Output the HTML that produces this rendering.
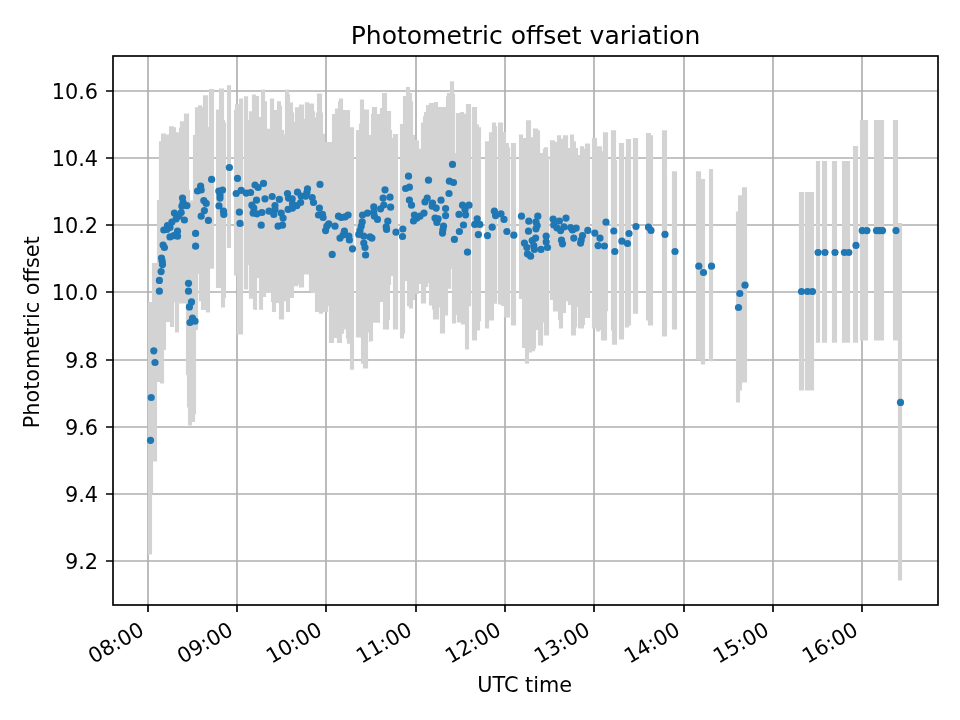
<!DOCTYPE html>
<html lang="en"><head><meta charset="utf-8"><title>Photometric offset variation</title>
<style>html,body{margin:0;padding:0;background:#fff}body{width:960px;height:720px;overflow:hidden}</style></head>
<body>
<svg width="960" height="720" viewBox="0 0 960 720" style="display:block">
<rect width="960" height="720" fill="#fff"/>
<path d="M148.00 56V605M237.00 56V605M326.00 56V605M416.00 56V605M505.00 56V605M594.00 56V605M684.00 56V605M773.00 56V605M862.00 56V605M113 91.00H938M113 158.00H938M113 225.00H938M113 292.00H938M113 360.00H938M113 427.00H938M113 494.00H938M113 561.00H938" stroke="#b0b0b0" stroke-width="1.667" fill="none"/>
<path fill="#d3d3d3" d="M147.92 301.90H152.08V554.60H147.92ZM151.92 263.10H153.08V493.00H151.92ZM152.92 263.10H157.08V461.60H152.92ZM156.92 200.00H159.08V381.90H156.92ZM158.92 141.25H160.08V381.90H158.92ZM159.92 141.25H161.08V383.50H159.92ZM160.92 133.50H164.08V383.50H160.92ZM163.92 133.50H166.08V350.00H163.92ZM165.92 134.38H169.08V321.88H165.92ZM168.92 126.25H170.08V321.88H168.92ZM169.92 126.25H174.08V326.88H169.92ZM173.92 127.25H175.08V302.50H173.92ZM174.92 127.25H176.08V332.50H174.92ZM175.92 132.25H179.08V332.50H175.92ZM178.92 127.50H180.08V303.50H178.92ZM179.92 121.25H184.08V303.50H179.92ZM183.92 113.38H186.08V303.50H183.92ZM185.92 113.38H187.08V375.00H185.92ZM186.92 113.38H188.08V407.50H186.92ZM187.92 113.38H189.08V425.60H187.92ZM188.92 190.00H190.08V425.60H188.92ZM189.92 200.62H192.08V425.60H189.92ZM191.92 200.62H193.08V421.90H191.92ZM192.92 135.00H195.08V421.90H192.92ZM194.92 107.25H196.08V414.40H194.92ZM195.92 107.25H198.08V330.00H195.92ZM197.92 105.25H199.08V273.75H197.92ZM198.92 105.25H201.08V301.25H198.92ZM200.92 105.25H202.08V310.00H200.92ZM201.92 106.88H203.08V310.00H201.92ZM202.92 95.25H206.08V310.00H202.92ZM205.92 95.25H208.08V312.50H205.92ZM207.92 126.88H209.08V312.50H207.92ZM208.92 89.12H210.08V312.50H208.92ZM209.92 89.12H214.08V268.75H209.92ZM215.92 109.38H219.08V288.12H215.92ZM218.92 88.38H221.08V288.12H218.92ZM220.92 88.38H224.08V307.50H220.92ZM223.92 120.00H225.08V307.50H223.92ZM224.92 122.50H226.08V298.12H224.92ZM226.92 85.25H231.08V248.12H226.92ZM233.92 110.00H235.08V275.62H233.92ZM234.92 104.00H237.08V275.62H234.92ZM236.92 104.00H239.08V334.38H236.92ZM238.92 98.38H243.08V334.38H238.92ZM243.92 96.25H248.08V289.38H243.92ZM247.92 120.00H249.08V265.00H247.92ZM248.92 111.25H252.08V298.75H248.92ZM251.92 94.38H253.08V298.75H251.92ZM252.92 94.38H255.08V309.38H252.92ZM254.92 94.38H256.08V310.00H254.92ZM255.92 96.00H257.08V310.00H255.92ZM256.92 96.00H259.08V278.12H256.92ZM258.92 116.88H261.08V309.75H258.92ZM260.92 89.38H263.08V309.75H260.92ZM262.92 89.38H265.08V296.88H262.92ZM264.92 101.25H266.08V296.88H264.92ZM265.92 101.25H267.08V293.12H265.92ZM266.92 128.75H270.08V293.12H266.92ZM269.92 98.38H271.08V293.12H269.92ZM270.92 98.38H272.08V301.88H270.92ZM271.92 98.38H274.08V311.88H271.92ZM273.92 110.00H276.08V311.88H273.92ZM275.92 110.00H277.08V303.12H275.92ZM276.92 101.25H279.08V303.12H276.92ZM278.92 101.25H281.08V319.38H278.92ZM280.92 105.62H282.08V319.38H280.92ZM281.92 130.00H284.08V319.38H281.92ZM283.92 134.38H285.08V301.25H283.92ZM284.92 89.38H286.08V301.25H284.92ZM285.92 89.38H289.08V311.88H285.92ZM288.92 94.38H290.08V311.88H288.92ZM289.92 102.50H293.08V298.12H289.92ZM292.92 112.50H294.08V298.12H292.92ZM293.92 121.88H295.08V286.25H293.92ZM294.92 107.25H298.08V286.25H294.92ZM297.92 107.25H299.08V284.38H297.92ZM298.92 104.38H304.08V287.50H298.92ZM303.92 118.75H305.08V274.38H303.92ZM304.92 102.25H309.08V274.38H304.92ZM308.92 103.38H311.08V291.25H308.92ZM310.92 103.38H314.08V293.12H310.92ZM313.92 111.25H315.08V293.12H313.92ZM314.92 117.50H316.08V311.88H314.92ZM315.92 112.50H317.08V311.88H315.92ZM316.92 93.38H319.08V311.88H316.92ZM318.92 93.38H322.08V313.75H318.92ZM321.92 112.50H323.08V313.75H321.92ZM322.92 133.75H325.08V311.88H322.92ZM324.92 141.88H328.08V311.88H324.92ZM327.92 141.88H329.08V306.25H327.92ZM328.92 141.88H332.08V342.88H328.92ZM331.92 114.00H334.08V342.88H331.92ZM333.92 114.00H335.08V338.12H333.92ZM334.92 108.50H337.08V338.12H334.92ZM336.92 108.50H338.08V342.88H336.92ZM337.92 101.25H339.08V342.88H337.92ZM338.92 98.38H342.08V342.88H338.92ZM341.92 98.38H343.08V333.75H341.92ZM342.92 110.00H344.08V333.75H342.92ZM343.92 110.00H346.08V329.38H343.92ZM345.92 110.00H347.08V338.75H345.92ZM346.92 110.00H350.08V343.75H346.92ZM349.92 127.25H354.08V369.75H349.92ZM355.92 130.00H359.08V337.50H355.92ZM358.92 123.75H360.08V337.50H358.92ZM359.92 99.38H361.08V337.50H359.92ZM360.92 99.38H363.08V363.75H360.92ZM362.92 99.38H364.08V368.50H362.92ZM363.92 109.38H368.08V368.50H363.92ZM367.92 109.38H369.08V332.50H367.92ZM368.92 135.00H370.08V341.88H368.92ZM369.92 135.00H371.08V341.25H369.92ZM370.92 113.75H372.08V341.25H370.92ZM371.92 106.88H373.08V341.25H371.92ZM372.92 106.88H377.08V322.75H372.92ZM376.92 114.00H380.08V322.75H376.92ZM379.92 108.12H382.08V301.88H379.92ZM381.92 93.12H383.08V301.88H381.92ZM382.92 93.12H387.08V329.38H382.92ZM386.92 111.00H389.08V329.38H386.92ZM388.92 111.00H390.08V320.00H388.92ZM389.92 111.00H391.08V285.00H389.92ZM390.92 130.00H392.08V276.00H390.92ZM391.92 138.12H393.08V276.00H391.92ZM392.92 134.00H398.08V329.38H392.92ZM399.92 124.00H403.08V338.50H399.92ZM402.92 95.88H404.08V338.50H402.92ZM403.92 95.88H405.08V333.75H403.92ZM404.92 95.88H406.08V281.00H404.92ZM405.92 87.12H407.08V281.00H405.92ZM406.92 87.12H409.08V306.25H406.92ZM408.92 87.12H410.08V308.50H408.92ZM409.92 93.12H412.08V308.50H409.92ZM411.92 101.25H413.08V308.50H411.92ZM412.92 135.00H415.08V300.00H412.92ZM414.92 140.00H417.08V294.00H414.92ZM416.92 140.62H419.08V294.00H416.92ZM418.92 148.75H421.08V284.00H418.92ZM420.92 122.50H423.08V303.50H420.92ZM422.92 116.25H424.08V303.50H422.92ZM423.92 111.88H426.08V303.50H423.92ZM425.92 105.00H428.08V287.00H425.92ZM427.92 105.00H429.08V283.00H427.92ZM428.92 103.12H432.08V305.62H428.92ZM431.92 103.12H433.08V309.38H431.92ZM432.92 103.12H434.08V319.38H432.92ZM433.92 102.12H438.08V319.38H433.92ZM437.92 106.88H439.08V319.38H437.92ZM438.92 106.88H440.08V307.50H438.92ZM439.92 106.88H445.08V333.50H439.92ZM444.92 106.88H446.08V315.62H444.92ZM445.92 96.25H447.08V315.62H445.92ZM446.92 93.12H448.08V315.62H446.92ZM447.92 93.12H450.08V288.75H447.92ZM449.92 81.25H451.08V288.75H449.92ZM450.92 81.25H452.08V269.00H450.92ZM451.92 81.25H454.08V323.50H451.92ZM453.92 93.75H455.08V323.50H453.92ZM454.92 153.12H456.08V323.50H454.92ZM455.92 113.12H457.08V315.00H455.92ZM456.92 113.12H460.08V322.50H456.92ZM459.92 112.12H461.08V322.50H459.92ZM460.92 112.12H464.08V324.38H460.92ZM463.92 113.75H465.08V324.38H463.92ZM464.92 113.75H466.08V349.62H464.92ZM465.92 104.12H469.08V349.62H465.92ZM468.92 104.12H471.08V306.25H468.92ZM471.92 107.12H477.08V340.62H471.92ZM476.92 124.38H479.08V330.62H476.92ZM478.92 127.25H480.08V330.62H478.92ZM479.92 127.25H481.08V321.25H479.92ZM484.92 141.25H489.08V328.50H484.92ZM488.92 132.25H492.08V320.62H488.92ZM491.92 122.50H494.08V320.62H491.92ZM493.92 122.50H496.08V303.75H493.92ZM495.92 126.25H497.08V303.75H495.92ZM497.92 122.50H501.08V304.38H497.92ZM500.92 122.50H503.08V306.00H500.92ZM502.92 131.88H504.08V306.00H502.92ZM503.92 131.88H506.08V317.50H503.92ZM505.92 143.12H509.08V317.50H505.92ZM508.92 147.50H510.08V317.50H508.92ZM510.92 143.12H516.08V325.62H510.92ZM518.92 134.38H522.08V299.00H518.92ZM521.92 134.38H523.08V348.12H521.92ZM522.92 138.12H525.08V348.12H522.92ZM524.92 138.12H526.08V363.75H524.92ZM525.92 120.25H529.08V363.75H525.92ZM528.92 120.25H531.08V352.50H528.92ZM530.92 137.25H532.08V352.50H530.92ZM531.92 137.25H533.08V351.25H531.92ZM532.92 128.38H535.08V351.25H532.92ZM534.92 128.38H536.08V348.75H534.92ZM535.92 128.38H538.08V330.00H535.92ZM537.92 130.25H540.08V345.62H537.92ZM539.92 153.12H543.08V345.62H539.92ZM542.92 148.75H544.08V322.50H542.92ZM543.92 147.25H548.08V335.38H543.92ZM547.92 156.25H549.08V335.38H547.92ZM549.92 140.25H553.08V300.00H549.92ZM552.92 140.25H555.08V311.62H552.92ZM554.92 141.88H557.08V311.62H554.92ZM556.92 135.25H558.08V311.62H556.92ZM557.92 135.25H559.08V320.00H557.92ZM558.92 135.25H561.08V328.50H558.92ZM560.92 138.75H563.08V328.50H560.92ZM562.92 135.25H566.08V313.12H562.92ZM565.92 135.25H568.08V301.25H565.92ZM567.92 148.12H570.08V305.00H567.92ZM569.92 134.38H571.08V305.00H569.92ZM570.92 134.38H574.08V335.38H570.92ZM573.92 141.25H576.08V335.38H573.92ZM575.92 148.12H577.08V327.50H575.92ZM576.92 148.12H578.08V306.88H576.92ZM577.92 155.00H580.08V328.50H577.92ZM579.92 146.25H584.08V328.50H579.92ZM583.92 148.75H585.08V325.00H583.92ZM584.92 143.38H590.08V317.88H584.92ZM591.92 138.12H596.08V328.50H591.92ZM595.92 138.12H597.08V331.50H595.92ZM596.92 146.25H600.08V331.50H596.92ZM599.92 146.25H601.08V330.00H599.92ZM600.92 146.25H602.08V340.62H600.92ZM601.92 151.25H603.08V340.62H601.92ZM602.92 132.25H607.08V340.62H602.92ZM606.92 132.25H608.08V311.25H606.92ZM610.92 130.25H612.08V330.62H610.92ZM611.92 130.25H616.08V344.75H611.92ZM615.92 160.00H617.08V344.75H615.92ZM618.92 143.12H624.08V339.38H618.92ZM624.92 158.75H626.08V327.50H624.92ZM625.92 139.12H629.08V327.50H625.92ZM628.92 139.12H631.08V325.62H628.92ZM632.92 138.12H638.08V313.75H632.92ZM645.92 133.12H648.08V320.62H645.92ZM647.92 133.12H651.08V325.62H647.92ZM650.92 135.25H653.08V325.62H650.92ZM661.92 130.25H667.08V336.50H661.92ZM671.92 171.25H677.08V329.62H671.92ZM695.92 171.25H701.08V359.75H695.92ZM700.92 179.12H705.08V364.60H700.92ZM708.92 169.12H713.08V361.25H708.92ZM735.92 211.50H740.08V402.50H735.92ZM737.92 195.25H742.08V390.60H737.92ZM741.92 187.25H747.08V382.50H741.92ZM798.92 192.10H804.08V390.60H798.92ZM804.92 192.10H814.08V390.60H804.92ZM815.92 161.00H820.08V342.75H815.92ZM821.92 161.00H827.08V342.75H821.92ZM831.92 161.00H837.08V342.75H831.92ZM841.92 161.00H850.08V342.75H841.92ZM852.92 146.00H858.08V342.75H852.92ZM859.92 120.00H868.08V340.60H859.92ZM873.92 120.00H884.08V340.60H873.92ZM892.92 120.00H898.08V340.60H892.92ZM897.92 223.10H902.08V580.60H897.92Z"/>
<g fill="#1f77b4"><circle cx="229.4" cy="167.5" r="3.6"/><circle cx="211.6" cy="179.4" r="3.6"/><circle cx="237.5" cy="178.4" r="3.6"/><circle cx="200.6" cy="186.2" r="3.6"/><circle cx="197.5" cy="191.0" r="3.6"/><circle cx="201.2" cy="190.0" r="3.6"/><circle cx="255.0" cy="185.0" r="3.6"/><circle cx="258.1" cy="187.5" r="3.6"/><circle cx="218.8" cy="191.0" r="3.6"/><circle cx="222.5" cy="190.0" r="3.6"/><circle cx="220.0" cy="195.0" r="3.6"/><circle cx="220.0" cy="198.1" r="3.6"/><circle cx="236.2" cy="193.5" r="3.6"/><circle cx="241.2" cy="190.4" r="3.6"/><circle cx="246.2" cy="193.1" r="3.6"/><circle cx="250.6" cy="192.5" r="3.6"/><circle cx="182.5" cy="198.1" r="3.6"/><circle cx="183.1" cy="202.5" r="3.6"/><circle cx="186.9" cy="205.6" r="3.6"/><circle cx="181.9" cy="206.2" r="3.6"/><circle cx="203.8" cy="200.6" r="3.6"/><circle cx="206.2" cy="203.4" r="3.6"/><circle cx="256.5" cy="200.2" r="3.6"/><circle cx="219.0" cy="205.9" r="3.6"/><circle cx="251.9" cy="205.2" r="3.6"/><circle cx="253.8" cy="208.1" r="3.6"/><circle cx="204.4" cy="210.6" r="3.6"/><circle cx="223.5" cy="211.2" r="3.6"/><circle cx="223.8" cy="214.4" r="3.6"/><circle cx="239.4" cy="212.2" r="3.6"/><circle cx="253.1" cy="213.1" r="3.6"/><circle cx="256.9" cy="213.8" r="3.6"/><circle cx="174.4" cy="213.1" r="3.6"/><circle cx="181.2" cy="212.5" r="3.6"/><circle cx="201.2" cy="216.2" r="3.6"/><circle cx="178.8" cy="216.2" r="3.6"/><circle cx="184.4" cy="220.0" r="3.6"/><circle cx="176.2" cy="218.8" r="3.6"/><circle cx="208.4" cy="220.4" r="3.6"/><circle cx="240.0" cy="223.4" r="3.6"/><circle cx="171.9" cy="222.1" r="3.6"/><circle cx="167.5" cy="225.6" r="3.6"/><circle cx="170.0" cy="227.5" r="3.6"/><circle cx="163.8" cy="230.0" r="3.6"/><circle cx="166.9" cy="229.4" r="3.6"/><circle cx="177.5" cy="231.2" r="3.6"/><circle cx="195.6" cy="233.4" r="3.6"/><circle cx="170.0" cy="236.9" r="3.6"/><circle cx="173.8" cy="235.6" r="3.6"/><circle cx="177.5" cy="236.2" r="3.6"/><circle cx="163.1" cy="245.0" r="3.6"/><circle cx="164.4" cy="247.5" r="3.6"/><circle cx="195.6" cy="246.2" r="3.6"/><circle cx="161.5" cy="258.1" r="3.6"/><circle cx="162.2" cy="261.2" r="3.6"/><circle cx="162.5" cy="264.4" r="3.6"/><circle cx="161.1" cy="271.6" r="3.6"/><circle cx="159.4" cy="280.4" r="3.6"/><circle cx="159.4" cy="291.2" r="3.6"/><circle cx="188.5" cy="283.3" r="3.6"/><circle cx="188.5" cy="291.2" r="3.6"/><circle cx="191.5" cy="301.9" r="3.6"/><circle cx="189.4" cy="306.9" r="3.6"/><circle cx="192.5" cy="318.1" r="3.6"/><circle cx="190.0" cy="322.5" r="3.6"/><circle cx="195.0" cy="321.2" r="3.6"/><circle cx="153.8" cy="350.8" r="3.6"/><circle cx="155.0" cy="362.5" r="3.6"/><circle cx="151.2" cy="397.5" r="3.6"/><circle cx="150.5" cy="440.3" r="3.6"/><circle cx="263.5" cy="183.4" r="3.6"/><circle cx="265.0" cy="198.8" r="3.6"/><circle cx="272.2" cy="196.5" r="3.6"/><circle cx="279.4" cy="199.4" r="3.6"/><circle cx="287.5" cy="193.5" r="3.6"/><circle cx="288.5" cy="198.1" r="3.6"/><circle cx="292.2" cy="198.8" r="3.6"/><circle cx="297.5" cy="192.2" r="3.6"/><circle cx="307.5" cy="188.8" r="3.6"/><circle cx="306.9" cy="192.5" r="3.6"/><circle cx="305.6" cy="196.2" r="3.6"/><circle cx="301.2" cy="196.2" r="3.6"/><circle cx="320.0" cy="184.4" r="3.6"/><circle cx="312.2" cy="197.5" r="3.6"/><circle cx="313.5" cy="202.5" r="3.6"/><circle cx="300.6" cy="202.5" r="3.6"/><circle cx="296.9" cy="205.6" r="3.6"/><circle cx="292.5" cy="203.8" r="3.6"/><circle cx="292.5" cy="208.1" r="3.6"/><circle cx="288.1" cy="209.4" r="3.6"/><circle cx="275.0" cy="205.6" r="3.6"/><circle cx="275.0" cy="209.4" r="3.6"/><circle cx="261.9" cy="212.5" r="3.6"/><circle cx="269.0" cy="211.2" r="3.6"/><circle cx="273.8" cy="214.4" r="3.6"/><circle cx="281.2" cy="213.1" r="3.6"/><circle cx="283.1" cy="218.1" r="3.6"/><circle cx="261.2" cy="225.2" r="3.6"/><circle cx="278.1" cy="226.2" r="3.6"/><circle cx="282.5" cy="225.2" r="3.6"/><circle cx="319.4" cy="208.1" r="3.6"/><circle cx="318.5" cy="215.0" r="3.6"/><circle cx="322.5" cy="214.4" r="3.6"/><circle cx="323.1" cy="217.5" r="3.6"/><circle cx="328.8" cy="223.8" r="3.6"/><circle cx="326.9" cy="226.2" r="3.6"/><circle cx="325.6" cy="230.6" r="3.6"/><circle cx="335.0" cy="226.2" r="3.6"/><circle cx="338.5" cy="216.2" r="3.6"/><circle cx="341.2" cy="217.5" r="3.6"/><circle cx="348.1" cy="215.0" r="3.6"/><circle cx="345.0" cy="216.9" r="3.6"/><circle cx="344.4" cy="231.2" r="3.6"/><circle cx="340.0" cy="238.1" r="3.6"/><circle cx="343.1" cy="235.0" r="3.6"/><circle cx="348.8" cy="236.2" r="3.6"/><circle cx="349.4" cy="240.0" r="3.6"/><circle cx="352.5" cy="248.8" r="3.6"/><circle cx="362.5" cy="215.0" r="3.6"/><circle cx="367.5" cy="213.1" r="3.6"/><circle cx="373.8" cy="206.9" r="3.6"/><circle cx="373.8" cy="211.9" r="3.6"/><circle cx="374.4" cy="216.2" r="3.6"/><circle cx="362.2" cy="221.9" r="3.6"/><circle cx="361.2" cy="226.2" r="3.6"/><circle cx="360.0" cy="230.6" r="3.6"/><circle cx="358.8" cy="234.4" r="3.6"/><circle cx="363.8" cy="236.2" r="3.6"/><circle cx="370.0" cy="236.9" r="3.6"/><circle cx="363.8" cy="243.1" r="3.6"/><circle cx="365.0" cy="247.5" r="3.6"/><circle cx="332.2" cy="254.4" r="3.6"/><circle cx="365.6" cy="255.0" r="3.6"/><circle cx="452.5" cy="164.4" r="3.6"/><circle cx="408.5" cy="176.2" r="3.6"/><circle cx="428.5" cy="180.2" r="3.6"/><circle cx="449.4" cy="181.2" r="3.6"/><circle cx="453.5" cy="182.5" r="3.6"/><circle cx="385.0" cy="189.8" r="3.6"/><circle cx="405.6" cy="188.5" r="3.6"/><circle cx="409.4" cy="187.2" r="3.6"/><circle cx="449.0" cy="193.5" r="3.6"/><circle cx="383.1" cy="198.1" r="3.6"/><circle cx="390.0" cy="197.2" r="3.6"/><circle cx="409.4" cy="200.0" r="3.6"/><circle cx="411.5" cy="205.2" r="3.6"/><circle cx="427.2" cy="198.1" r="3.6"/><circle cx="425.0" cy="201.9" r="3.6"/><circle cx="441.0" cy="200.2" r="3.6"/><circle cx="432.5" cy="203.1" r="3.6"/><circle cx="432.2" cy="206.2" r="3.6"/><circle cx="436.2" cy="208.1" r="3.6"/><circle cx="445.6" cy="208.5" r="3.6"/><circle cx="462.5" cy="205.2" r="3.6"/><circle cx="469.0" cy="205.2" r="3.6"/><circle cx="465.0" cy="209.4" r="3.6"/><circle cx="383.8" cy="205.0" r="3.6"/><circle cx="380.6" cy="208.8" r="3.6"/><circle cx="390.6" cy="207.2" r="3.6"/><circle cx="377.5" cy="219.4" r="3.6"/><circle cx="387.8" cy="221.2" r="3.6"/><circle cx="386.2" cy="226.9" r="3.6"/><circle cx="386.6" cy="229.4" r="3.6"/><circle cx="396.0" cy="232.2" r="3.6"/><circle cx="402.8" cy="229.0" r="3.6"/><circle cx="402.5" cy="236.5" r="3.6"/><circle cx="371.9" cy="238.1" r="3.6"/><circle cx="424.0" cy="213.1" r="3.6"/><circle cx="420.0" cy="216.2" r="3.6"/><circle cx="414.4" cy="215.0" r="3.6"/><circle cx="416.9" cy="218.1" r="3.6"/><circle cx="413.5" cy="221.0" r="3.6"/><circle cx="435.0" cy="218.1" r="3.6"/><circle cx="438.1" cy="218.8" r="3.6"/><circle cx="436.9" cy="222.5" r="3.6"/><circle cx="445.6" cy="215.6" r="3.6"/><circle cx="443.5" cy="226.2" r="3.6"/><circle cx="442.5" cy="233.1" r="3.6"/><circle cx="442.9" cy="229.8" r="3.6"/><circle cx="459.0" cy="214.4" r="3.6"/><circle cx="465.6" cy="214.8" r="3.6"/><circle cx="463.5" cy="225.0" r="3.6"/><circle cx="459.4" cy="231.5" r="3.6"/><circle cx="454.4" cy="239.4" r="3.6"/><circle cx="477.2" cy="218.8" r="3.6"/><circle cx="474.8" cy="224.4" r="3.6"/><circle cx="479.8" cy="224.4" r="3.6"/><circle cx="478.4" cy="234.6" r="3.6"/><circle cx="487.5" cy="235.6" r="3.6"/><circle cx="467.5" cy="252.2" r="3.6"/><circle cx="494.4" cy="211.2" r="3.6"/><circle cx="495.6" cy="215.6" r="3.6"/><circle cx="501.0" cy="213.8" r="3.6"/><circle cx="504.0" cy="219.4" r="3.6"/><circle cx="492.2" cy="227.2" r="3.6"/><circle cx="506.9" cy="231.5" r="3.6"/><circle cx="513.8" cy="235.2" r="3.6"/><circle cx="521.5" cy="216.2" r="3.6"/><circle cx="537.8" cy="216.2" r="3.6"/><circle cx="528.8" cy="221.2" r="3.6"/><circle cx="536.0" cy="221.9" r="3.6"/><circle cx="537.2" cy="225.6" r="3.6"/><circle cx="536.0" cy="228.8" r="3.6"/><circle cx="528.5" cy="231.2" r="3.6"/><circle cx="535.6" cy="238.1" r="3.6"/><circle cx="532.2" cy="240.6" r="3.6"/><circle cx="524.4" cy="243.1" r="3.6"/><circle cx="526.9" cy="247.5" r="3.6"/><circle cx="527.5" cy="253.8" r="3.6"/><circle cx="530.6" cy="256.2" r="3.6"/><circle cx="533.8" cy="245.6" r="3.6"/><circle cx="534.4" cy="249.4" r="3.6"/><circle cx="541.0" cy="249.4" r="3.6"/><circle cx="546.2" cy="236.2" r="3.6"/><circle cx="546.2" cy="241.9" r="3.6"/><circle cx="547.5" cy="247.5" r="3.6"/><circle cx="553.1" cy="219.1" r="3.6"/><circle cx="559.4" cy="221.0" r="3.6"/><circle cx="566.0" cy="218.1" r="3.6"/><circle cx="553.8" cy="225.0" r="3.6"/><circle cx="556.9" cy="227.8" r="3.6"/><circle cx="560.6" cy="230.6" r="3.6"/><circle cx="564.0" cy="226.9" r="3.6"/><circle cx="570.6" cy="227.5" r="3.6"/><circle cx="572.5" cy="230.0" r="3.6"/><circle cx="576.2" cy="228.1" r="3.6"/><circle cx="573.8" cy="238.1" r="3.6"/><circle cx="561.5" cy="240.2" r="3.6"/><circle cx="562.5" cy="243.8" r="3.6"/><circle cx="582.5" cy="235.6" r="3.6"/><circle cx="581.2" cy="240.0" r="3.6"/><circle cx="580.6" cy="243.1" r="3.6"/><circle cx="587.8" cy="230.4" r="3.6"/><circle cx="594.8" cy="233.1" r="3.6"/><circle cx="600.0" cy="238.1" r="3.6"/><circle cx="598.1" cy="245.6" r="3.6"/><circle cx="604.4" cy="246.0" r="3.6"/><circle cx="606.0" cy="222.2" r="3.6"/><circle cx="613.8" cy="231.0" r="3.6"/><circle cx="614.8" cy="251.5" r="3.6"/><circle cx="621.9" cy="241.2" r="3.6"/><circle cx="627.5" cy="243.5" r="3.6"/><circle cx="629.0" cy="233.5" r="3.6"/><circle cx="636.0" cy="226.5" r="3.6"/><circle cx="648.5" cy="227.2" r="3.6"/><circle cx="651.0" cy="230.4" r="3.6"/><circle cx="665.0" cy="234.4" r="3.6"/><circle cx="675.0" cy="251.5" r="3.6"/><circle cx="698.8" cy="266.2" r="3.6"/><circle cx="711.5" cy="266.2" r="3.6"/><circle cx="703.5" cy="272.5" r="3.6"/><circle cx="745.0" cy="285.2" r="3.6"/><circle cx="739.8" cy="293.5" r="3.6"/><circle cx="738.5" cy="307.5" r="3.6"/><circle cx="801.5" cy="291.5" r="3.6"/><circle cx="807.5" cy="291.5" r="3.6"/><circle cx="812.5" cy="291.5" r="3.6"/><circle cx="818.1" cy="252.5" r="3.6"/><circle cx="825.0" cy="252.5" r="3.6"/><circle cx="835.0" cy="252.5" r="3.6"/><circle cx="844.4" cy="252.5" r="3.6"/><circle cx="848.8" cy="252.5" r="3.6"/><circle cx="856.0" cy="245.4" r="3.6"/><circle cx="862.2" cy="230.6" r="3.6"/><circle cx="866.9" cy="230.6" r="3.6"/><circle cx="876.5" cy="230.6" r="3.6"/><circle cx="879.4" cy="230.6" r="3.6"/><circle cx="882.5" cy="230.6" r="3.6"/><circle cx="896.0" cy="230.6" r="3.6"/><circle cx="900.5" cy="402.4" r="3.6"/></g>
<path d="M148.00 605v7.0M237.00 605v7.0M326.00 605v7.0M416.00 605v7.0M505.00 605v7.0M594.00 605v7.0M684.00 605v7.0M773.00 605v7.0M862.00 605v7.0M113 91.00h-7.0M113 158.00h-7.0M113 225.00h-7.0M113 292.00h-7.0M113 360.00h-7.0M113 427.00h-7.0M113 494.00h-7.0M113 561.00h-7.0" stroke="#000" stroke-width="1.667" fill="none"/>
<rect x="113" y="56" width="825" height="549" fill="none" stroke="#000" stroke-width="1.667"/>
<g font-family="'DejaVu Sans','Liberation Sans',sans-serif" fill="#000">
<text x="525.5" y="43.9" font-size="25.05" text-anchor="middle">Photometric offset variation</text>
<text x="98.1" y="98.9" font-size="20.83" text-anchor="end">10.6</text>
<text x="98.1" y="165.9" font-size="20.83" text-anchor="end">10.4</text>
<text x="98.1" y="232.9" font-size="20.83" text-anchor="end">10.2</text>
<text x="98.1" y="299.9" font-size="20.83" text-anchor="end">10.0</text>
<text x="98.1" y="367.9" font-size="20.83" text-anchor="end">9.8</text>
<text x="98.1" y="434.9" font-size="20.83" text-anchor="end">9.6</text>
<text x="98.1" y="501.9" font-size="20.83" text-anchor="end">9.4</text>
<text x="98.1" y="568.9" font-size="20.83" text-anchor="end">9.2</text>
<text transform="translate(145.4 633.9) rotate(-30)" font-size="20.83" text-anchor="end">08:00</text>
<text transform="translate(234.4 633.9) rotate(-30)" font-size="20.83" text-anchor="end">09:00</text>
<text transform="translate(323.4 633.9) rotate(-30)" font-size="20.83" text-anchor="end">10:00</text>
<text transform="translate(413.4 633.9) rotate(-30)" font-size="20.83" text-anchor="end">11:00</text>
<text transform="translate(502.4 633.9) rotate(-30)" font-size="20.83" text-anchor="end">12:00</text>
<text transform="translate(591.4 633.9) rotate(-30)" font-size="20.83" text-anchor="end">13:00</text>
<text transform="translate(681.4 633.9) rotate(-30)" font-size="20.83" text-anchor="end">14:00</text>
<text transform="translate(770.4 633.9) rotate(-30)" font-size="20.83" text-anchor="end">15:00</text>
<text transform="translate(859.4 633.9) rotate(-30)" font-size="20.83" text-anchor="end">16:00</text>
<text x="525.5" y="691.7" font-size="20.83" text-anchor="middle" dx="-0.8">UTC time</text>
<text transform="translate(38.5 332.3) rotate(-90)" font-size="20.83" text-anchor="middle">Photometric offset</text>
</g></svg>
</body></html>
